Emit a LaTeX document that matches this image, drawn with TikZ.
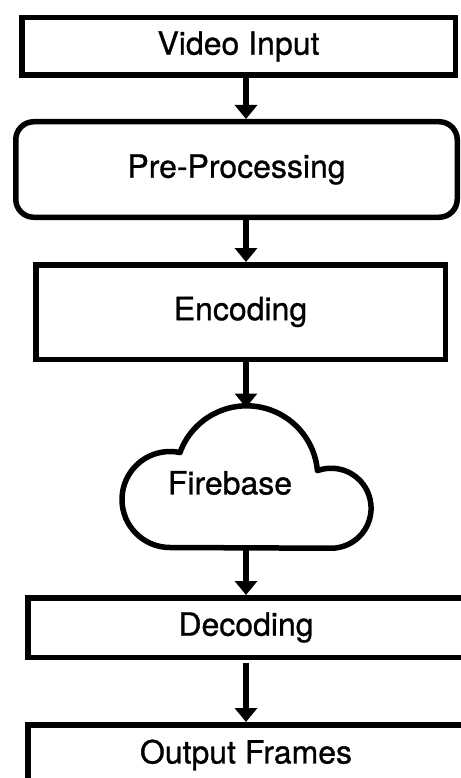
\documentclass[tikz,border=0pt]{standalone}
\usepackage{fontspec}
\setmainfont[FakeBold=0.8]{TeX Gyre Heros}
\usetikzlibrary{positioning}
\usetikzlibrary{arrows.meta}

\begin{document}
\begin{tikzpicture}[>={Triangle[width=0.44cm,length=0.28cm]}, line width=0.11cm,
                    font=\fontsize{18.2pt}{21pt}\selectfont,
                    box node/.style={rectangle,draw,inner sep=0pt},
                    round node/.style={box node,rounded corners=0.36cm},
                    cloud node/.style={inner sep=0pt,outer sep=0pt}]
      \useasboundingbox (0,0) rectangle (9.22,-15.56);
      \clip (0,0) rectangle (9.22,-15.56);

      \node[box node, minimum width=8.67cm, minimum height=1.15cm] (1) at (4.77,-0.93) {Video Input};
      \node[round node, minimum width=8.83cm, minimum height=1.91cm] (2) [below=0.82cm of 1, xshift=-0.04cm] {Pre-Processing};
      \node[box node, minimum width=8.19cm, minimum height=1.89cm] (3) [below=0.84cm of 2, xshift=0.08cm] {Encoding};
      \node[cloud node, minimum width=4.94cm, minimum height=2.8cm] (4) [below=0.91cm of 3, xshift=0.11cm,
            label={[xshift=-0.32cm,yshift=-0.11cm]center:Firebase}] {};
      \node[box node, minimum width=8.73cm, minimum height=1.19cm] (5) [below=0.95cm of 4] {Decoding};
      \node[box node, minimum width=8.73cm, minimum height=1.21cm] (6) [below=1.24cm of 5] {Output Frames};

      % cloud outline round node 4
      \draw[line join=round] ([shift={(-1.52,-1.40)}]4.center)
            arc[start angle=270, end angle=78, radius=0.96cm]
            arc[start angle=160, end angle=5, radius=1.42cm]
            arc[start angle=110, end angle=-90, radius=0.8cm] -- cycle;

      \path[->]
	(1.south -| 4.center) edge (2.north -| 4.center)
	(2.south -| 4.center) edge (3.north -| 4.center)
	(3.south -| 4.center) edge (4.north)
	(4.south) edge (5.north)
	(5.south) edge [shorten <=0.06cm] (6.north);
\end{tikzpicture}
\end{document}
